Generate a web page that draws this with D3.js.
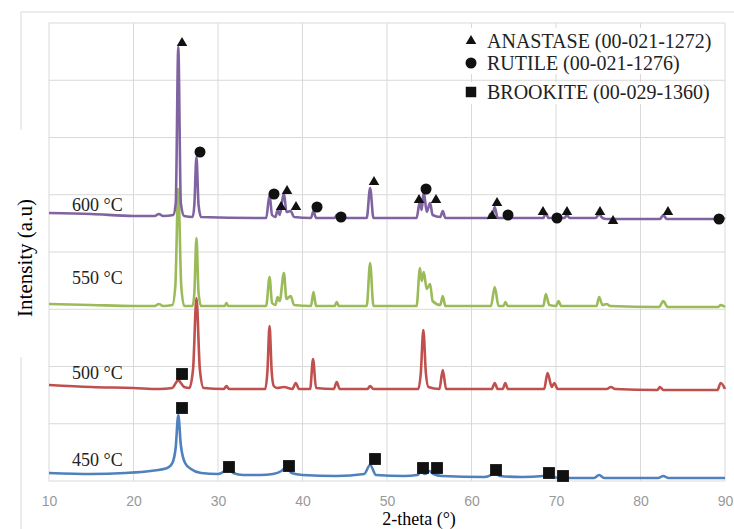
<!DOCTYPE html>
<html>
<head>
<meta charset="utf-8">
<script src="https://cdn.jsdelivr.net/npm/d3@7"></script>
<style>
  body { margin: 0; background: #fff; }
  text { font-family: "Liberation Serif", "Times New Roman", serif; }
</style>
</head>
<body>
<script>
// XRD patterns of TiO2 calcined at different temperatures
// values: [2-theta, intensity (a.u.)], curves are stacked with an offset
var twoThetaTicks = [10, 20, 30, 40, 50, 60, 70, 80, 90];
var seriesNames = ["450 °C", "500 °C", "550 °C", "600 °C"];

var xrd450 = [[10,8],[15,7],[19,8],[22,10],[24.0,13],[24.6,18],[25.0,34],[25.3,66],[25.6,36],[26.1,18],[26.8,12],[28,8],[30,7],[30.6,9],[31.2,14],[31.8,8],[33,6],[35,6],[36.5,7],[37.5,10],[38.1,14],[38.7,8],[40,6],[44,5],[47.3,7],[48.0,16],[48.7,6],[52,5],[53.6,6],[54.0,9],[54.5,7],[55.0,10],[55.5,7],[56.5,5],[61.5,4],[62.3,6],[62.7,9],[63.3,5],[66,4],[68.5,5],[69.0,8],[69.5,4],[71,3],[74.5,3],[75.1,6],[75.7,3],[82.1,3],[82.7,5],[83.3,3],[90,3]];

var xrd500 = [[10,96],[15,94],[20,93],[23,92],[24.6,93],[25.0,98],[25.3,101],[25.6,98],[26.0,94],[26.6,93],[27.05,112],[27.45,183],[27.85,112],[28.3,93],[30.7,92],[31.0,95],[31.3,92],[35.6,92],[35.85,110],[36.1,155],[36.35,110],[36.6,95],[37.0,93],[37.8,94],[38.8,92],[39.2,98],[39.6,92],[40.9,92],[41.25,122],[41.6,93],[43.7,92],[44.05,99],[44.4,92],[47.7,92],[48.0,95],[48.4,92],[53.7,92],[54.0,108],[54.3,151],[54.6,108],[54.9,94],[56.2,92],[56.6,111],[57.0,92],[62.4,92],[62.75,98],[63.1,92],[63.7,92],[64.0,98],[64.3,92],[68.6,92],[69.0,108],[69.5,94],[69.8,98],[70.2,92],[76.0,92],[76.5,94],[77.0,92],[82.0,91],[82.3,94],[82.7,91],[89.1,91],[89.5,98],[90,92]];

var xrd550 = [[10,177],[15,176],[20,175],[22.5,175],[23,177],[23.5,175],[24.6,176],[24.95,195],[25.3,292],[25.65,195],[26.0,175],[27.0,175],[27.2,188],[27.45,243],[27.7,188],[28.0,175],[30.8,175],[31.0,178],[31.2,175],[35.7,175],[36.1,204],[36.4,178],[36.8,176],[37.05,184],[37.3,180],[37.8,208],[38.1,182],[38.6,185],[39.0,176],[41.0,175],[41.3,189],[41.6,175],[43.8,175],[44.05,179],[44.3,175],[47.6,175],[48.0,218],[48.4,175],[53.5,175],[53.9,213],[54.1,200],[54.35,209],[54.7,192],[55.1,197],[55.4,180],[56.3,176],[56.6,185],[56.9,175],[62.3,175],[62.75,194],[63.2,175],[63.8,175],[64.0,179],[64.3,175],[68.5,175],[68.8,187],[69.2,176],[70.0,175],[70.3,180],[70.6,175],[74.8,175],[75.1,184],[75.5,176],[76.0,177],[76.4,175],[82.2,174],[82.7,180],[83.2,174],[89.2,174],[89.5,176],[90,174]];

var xrd600 = [[10,268],[15,267],[20,265],[22.5,265],[23,267],[23.5,265],[24.7,266],[25.0,278],[25.3,434],[25.6,278],[26,265],[27.0,264],[27.2,276],[27.45,324],[27.7,276],[28,264],[35.7,263],[36.1,286],[36.4,266],[36.8,264],[37.05,271],[37.3,266],[37.8,288],[38.1,269],[38.6,270],[39.0,264],[41.0,263],[41.3,270],[41.6,263],[43.8,263],[44.05,266],[44.3,263],[47.6,263],[48.0,293],[48.4,263],[53.5,263],[53.9,280],[54.1,271],[54.35,289],[54.7,269],[55.1,278],[55.4,266],[56.3,264],[56.6,270],[56.9,263],[62.0,263],[62.2,267],[62.45,265],[62.75,274],[63.1,263],[63.8,263],[64.0,265],[64.3,263],[68.5,263],[68.8,268],[69.1,263],[70.0,263],[70.3,265],[70.6,263],[71.0,263],[71.3,266],[71.6,263],[74.7,263],[75.1,267],[75.5,263],[76.0,262],[82.3,262],[82.7,266],[83.1,262],[89.2,262],[89.5,264],[90,262]];

// phase markers [2-theta, intensity]
var anastase = [[25.74,438],[38.17,290],[37.46,274],[39.23,274],[48.46,299],[53.79,281],[55.80,281],[63.02,278],[62.43,265],[68.46,269],[71.30,269],[75.21,269],[76.75,260],[83.25,269]];
var rutile = [[27.87,329],[36.63,287],[41.72,274],[44.56,264],[54.62,292],[64.32,266],[70.12,263],[89.29,262]];
var brookite = [[25.74,107],[25.74,73],[31.30,14],[38.40,15],[48.58,22],[54.26,13],[55.92,13],[62.90,11],[69.17,8],[70.83,5]];

var legendLabels = ["ANASTASE (00-021-1272)", "RUTILE (00-021-1276)", "BROOKITE (00-029-1360)"];

var W = 734, H = 529;
var colors = ["#4f81bd", "#c0504d", "#9bbb59", "#8064a2"];
var labelDy = [-13, -12, -26, -8];
var series = [xrd450, xrd500, xrd550, xrd600];

const svg = d3.select("body").append("svg")
    .attr("width", W)
    .attr("height", H);

var x = d3.scaleLinear().domain([10, 90]).range([49, 725]);
var y = d3.scaleLinear().domain([0, 458]).range([481, 23]);

// chart border (broken by the y title)
svg.append("path")
    .attr("d", "M21,130V12H734M21,357V529")
    .attr("fill", "none")
    .attr("stroke", "#d9d9d9");

// grid
var grid = svg.append("g").attr("stroke", "#d9d9d9").attr("stroke-width", 1);
d3.range(0, 9).forEach(function(i) {
  grid.append("line")
    .attr("x1", x(10)).attr("x2", x(90))
    .attr("y1", y(i * 458 / 8)).attr("y2", y(i * 458 / 8));
});
twoThetaTicks.forEach(function(t) {
  grid.append("line")
    .attr("x1", x(t)).attr("x2", x(t))
    .attr("y1", y(0)).attr("y2", y(458));
});

// legend backgrounds
svg.append("rect").attr("x", 460).attr("y", 28).attr("width", 262).attr("height", 46).attr("fill", "#fff");
svg.append("rect").attr("x", 460).attr("y", 82).attr("width", 262).attr("height", 22).attr("fill", "#fff");

// x axis
var xAxis = svg.append("g")
    .attr("transform", "translate(0," + y(0) + ")")
    .call(d3.axisBottom(x).tickValues(twoThetaTicks).tickSize(0).tickPadding(15));
xAxis.select(".domain").remove();
xAxis.selectAll("text")
    .attr("fill", "#999")
    .style("font-family", "'Liberation Sans', Arial, sans-serif")
    .style("font-size", "14px");

// curves
var line = d3.line()
    .x(function(d) { return x(d[0]); })
    .y(function(d) { return y(d[1]); })
    .curve(d3.curveMonotoneX);

series.forEach(function(s, i) {
  svg.append("path")
    .datum(s)
    .attr("fill", "none")
    .attr("stroke", colors[i])
    .attr("stroke-width", 2.6)
    .attr("stroke-linejoin", "round")
    .attr("d", line);
  svg.append("text")
    .attr("x", 72)
    .attr("y", y(s[0][1]) + labelDy[i])
    .attr("dy", "0.35em")
    .style("font-size", "18px")
    .attr("fill", "#222")
    .text(seriesNames[i]);
});

// phase markers
var tri = d3.symbol(d3.symbolTriangle, 48);
var dot = d3.symbol(d3.symbolCircle, 95);
var sq = d3.symbol(d3.symbolSquare, 140);

function drawMarkers(data, sym) {
  svg.append("g").selectAll("path")
    .data(data)
    .enter()
    .append("path")
      .attr("transform", function(d) { return "translate(" + x(d[0]) + "," + y(d[1]) + ")"; })
      .attr("d", sym)
      .attr("fill", "#111");
}
drawMarkers(anastase, tri);
drawMarkers(rutile, dot);
drawMarkers(brookite, sq);

// legend
var legendY = [41, 63, 92];
var legendSym = [tri, dot, d3.symbol(d3.symbolSquare, 110)];
legendLabels.forEach(function(l, i) {
  svg.append("path")
    .attr("transform", "translate(471," + legendY[i] + ")")
    .attr("d", legendSym[i])
    .attr("fill", "#111");
  svg.append("text")
    .attr("x", 487)
    .attr("y", legendY[i])
    .attr("dy", "0.35em")
    .style("font-size", "20px")
    .attr("fill", "#222")
    .text(l);
});

// axis titles
svg.append("text")
    .attr("x", 419)
    .attr("y", 519)
    .attr("dy", "0.35em")
    .attr("text-anchor", "middle")
    .style("font-size", "18px")
    .text("2-theta (°)");

svg.append("text")
    .attr("transform", "translate(25,258)rotate(-90)")
    .attr("dy", "0.35em")
    .attr("text-anchor", "middle")
    .style("font-size", "21px")
    .text("Intensity (a.u)");
</script>
</body>
</html>
